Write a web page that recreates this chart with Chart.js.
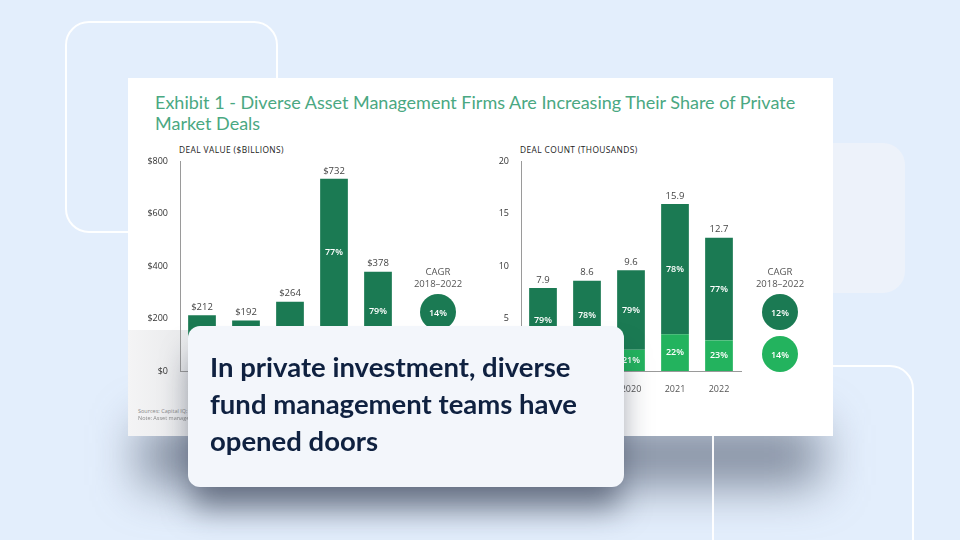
<!DOCTYPE html>
<html>
<head>
<meta charset="utf-8">
<script src="https://cdn.jsdelivr.net/npm/chart.js@4.4.1/dist/chart.umd.min.js"></script>
<style>
  html, body { margin: 0; padding: 0; }
  body { width: 960px; height: 540px; overflow: hidden; position: relative; background: #e3eefc; font-family: "Open Sans", sans-serif; }
  .abs { position: absolute; }
  #deco1 { left: 65px; top: 21px; width: 209px; height: 208px; border: 2px solid rgba(255,255,255,.95); border-radius: 24px; }
  #deco2 { left: 760px; top: 143px; width: 145px; height: 150px; background: #edf2fa; border-radius: 22px; }
  #shade { left: 140px; top: 425px; width: 680px; height: 60px; background: rgba(85,95,115,.7); filter: blur(24px); }
  #deco3 { left: 712px; top: 365px; width: 198px; height: 260px; border: 2px solid rgba(255,255,255,.95); border-radius: 24px; }
  #card { left: 128px; top: 78px; width: 705px; height: 358px; background: #fff; }
  #haze { left: 128px; top: 330px; width: 62px; height: 106px; background: linear-gradient(to right, #f4f4f5, #e8e9eb); }
  #title { left: 155px; top: 92px; width: 670px; font-family: Lato, sans-serif; font-size: 18px; line-height: 21px; color: #4aa882; }
  .sub { font-size: 8.4px; color: #222; letter-spacing: .4px; top: 144px; }
  .cagr { width: 80px; text-align: center; font-size: 9.5px; line-height: 12px; color: #555; top: 266px; }
  .dot { width: 36px; height: 36px; border-radius: 50%; color: #fff; font-size: 9px; font-weight: 600; display: flex; align-items: center; justify-content: center; }
  .foot { left: 138px; font-size: 5.5px; color: #888; }
  canvas { position: absolute; }
  #caption { left: 188px; top: 326px; width: 436px; height: 161px; background: #f3f6fb; border-radius: 12px;
             box-shadow: 0 26px 30px -4px rgba(30,40,62,.5); box-sizing: border-box; padding: 22px 0 0 22px;
             font-family: Lato, sans-serif; font-weight: 700; font-size: 27.5px; line-height: 37px; color: #0f2140; }
</style>
</head>
<body>
<div class="abs" id="deco1"></div>
<div class="abs" id="deco2"></div>
<div class="abs" id="shade"></div>
<div class="abs" id="deco3"></div>
<div class="abs" id="card"></div>
<div class="abs" id="haze"></div>
<div class="abs" id="title">Exhibit 1 - Diverse Asset Management Firms Are Increasing Their Share of Private<br>Market Deals</div>
<div class="abs sub" style="left:179px">DEAL VALUE ($BILLIONS)</div>
<div class="abs sub" style="left:520px">DEAL COUNT (THOUSANDS)</div>
<canvas id="valueChart" width="275" height="260" style="left:130px;top:140px"></canvas>
<canvas id="countChart" width="275" height="260" style="left:471px;top:140px"></canvas>
<div id="cagrValue"></div>
<div id="cagrCount"></div>
<div class="abs foot" style="top:407px">Sources: Capital IQ; Preqin; BCG analysis.</div>
<div class="abs foot" style="top:414px">Note: Asset managers with diverse ownership.</div>
<div class="abs" id="caption">In private investment, diverse<br>fund management teams have<br>opened doors</div>

<script>
/* data */
const years = ['2018', '2019', '2020', '2021', '2022'];
const valueTotals = [212, 192, 264, 732, 378];
const valueMainShare = [80, 79, 86, 77, 79];   // 2018-2020 sit under the caption box, estimated
const valueTicks = [0, 200, 400, 600, 800];
const valueCagr = ['14%', '17%'];
const countTotals = [7.9, 8.6, 9.6, 15.9, 12.7];
const countMainShare = [79, 78, 79, 78, 77];
const countTicks = [0, 5, 10, 15, 20];
const countCagr = ['12%', '14%'];

const DARK = '#1b7a53';
const LIGHT = '#23b35e';

/* labels inside and above the bars */
const barLabels = {
  id: 'barLabels',
  afterDatasetsDraw(chart, args, opts) {
    const { ctx } = chart;
    ctx.save();
    ctx.textAlign = 'center';
    ctx.textBaseline = 'middle';
    chart.data.datasets.forEach((ds, di) => {
      chart.getDatasetMeta(di).data.forEach((bar, i) => {
        const pct = di === 1 ? opts.shares[i] : 100 - opts.shares[i];
        ctx.font = '600 9px "Open Sans"';
        ctx.fillStyle = '#fff';
        ctx.fillText(pct + '%', bar.x, (bar.y + bar.base) / 2);
        if (di === 1) {
          ctx.font = '9.5px "Open Sans"';
          ctx.fillStyle = '#444';
          ctx.fillText(opts.fmt(opts.totals[i]), bar.x, bar.y - 8);
        }
      });
    });
    ctx.restore();
  }
};

const makeChart = (id, totals, shares, ticks, fmtTick, fmtTotal) => {
  const main = totals.map((t, i) => t * shares[i] / 100);
  const rest = totals.map((t, i) => t - main[i]);
  return new Chart(document.getElementById(id), {
    type: 'bar',
    data: {
      labels: years,
      datasets: [
        { data: rest, backgroundColor: LIGHT, barPercentage: 0.63, categoryPercentage: 1 },
        { data: main, backgroundColor: DARK, barPercentage: 0.63, categoryPercentage: 1 }
      ]
    },
    options: {
      responsive: false, animation: false,
      layout: { padding: { top: 21, right: 5, left: 0, bottom: 0 } },
      plugins: {
        legend: { display: false }, tooltip: { enabled: false },
        barLabels: { shares, totals, fmt: fmtTotal }
      },
      scales: {
        x: {
          stacked: true,
          grid: { display: false },
          border: { color: '#9a9a9a', width: 1 },
          ticks: { color: '#555', font: { size: 9, family: 'Open Sans' }, padding: 5 },
          afterFit: s => { s.height = 29; }
        },
        y: {
          stacked: true, min: ticks[0], max: ticks[ticks.length - 1],
          afterBuildTicks: s => { s.ticks = ticks.map(v => ({ value: v })); },
          grid: { display: false },
          border: { color: '#9a9a9a', width: 1 },
          ticks: { color: '#333', font: { size: 9, family: 'Open Sans' }, padding: 4, callback: fmtTick },
          afterFit: s => { s.width = 50; }
        }
      }
    },
    plugins: [barLabels]
  });
};

makeChart('valueChart', valueTotals, valueMainShare, valueTicks, v => '$' + v, v => '$' + v);
makeChart('countChart', countTotals, countMainShare, countTicks, v => v, v => v.toFixed(1));

/* CAGR notes */
const renderCagr = (elId, cx, vals) => {
  const el = document.getElementById(elId);
  const head = document.createElement('div');
  head.className = 'abs cagr';
  head.style.left = (cx - 40) + 'px';
  head.innerHTML = 'CAGR<br>2018–2022';
  el.appendChild(head);
  vals.forEach((v, i) => {
    const d = document.createElement('div');
    d.className = 'abs dot';
    d.style.left = (cx - 18) + 'px';
    d.style.top = (294 + i * 42) + 'px';
    d.style.background = i === 0 ? DARK : LIGHT;
    d.textContent = v;
    el.appendChild(d);
  });
};
renderCagr('cagrValue', 438, valueCagr);
renderCagr('cagrCount', 780, countCagr);
</script>
</body>
</html>
